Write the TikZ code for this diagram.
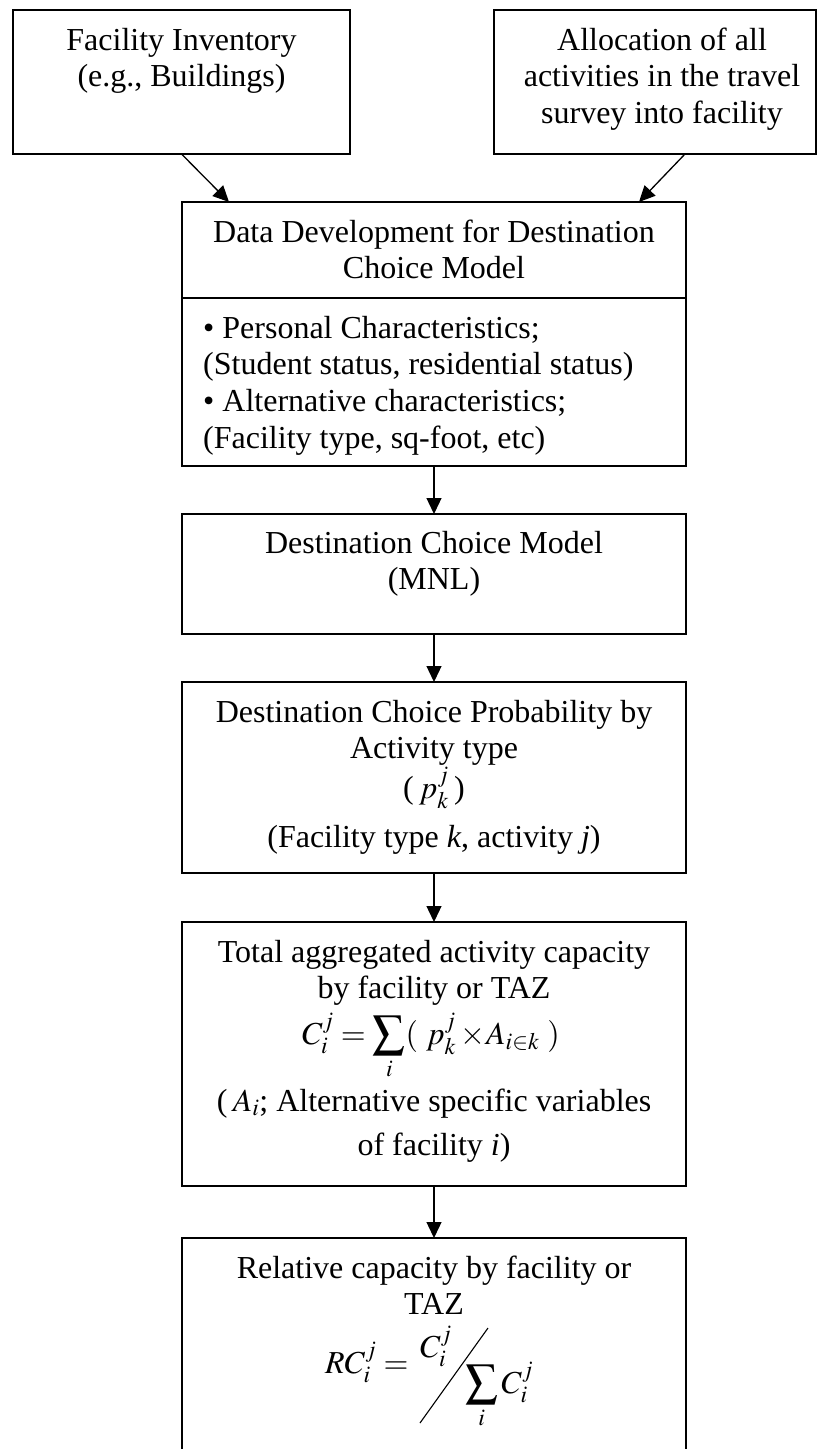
\documentclass[tikz,border=0pt]{standalone}
\usepackage{mathptmx}
\usepackage[no-math]{fontspec}
\setmainfont{Liberation Serif}
\usetikzlibrary{arrows.meta}
\newcommand\mystrut{\rule{0pt}{26pt}}
\tikzset{
  box/.style={draw, line width=1.6pt, inner sep=0pt, outer sep=0pt, anchor=north west},
  txt/.style={inner sep=0pt, align=center, anchor=north, font=\fontsize{32}{36.7}\selectfont},
  txtl/.style={txt, align=left, anchor=north west},
  arr/.style={-{Triangle[length=16pt,width=15pt]}, line width=1.3pt},
  slash/.style={line width=1.1pt},
}
\begin{document}
\begin{tikzpicture}[x=1pt,y=-1pt]
\useasboundingbox (0,0) rectangle (817,1449);
\clip (0,0) rectangle (817,1449);
% boxes
\node[box, minimum width=337pt, minimum height=144pt] (fac) at (13,10) {};
\node[box, minimum width=322pt, minimum height=144pt] (alloc) at (494,10) {};
\node[box, minimum width=504pt, minimum height=264pt] (data) at (182,202) {};
\node[box, minimum width=504pt, minimum height=120pt] (mnl) at (182,514) {};
\node[box, minimum width=504pt, minimum height=191pt] (prob) at (182,682) {};
\node[box, minimum width=504pt, minimum height=264pt] (total) at (182,922) {};
\node[box, minimum width=504pt, minimum height=260pt] (rel) at (182,1238) {};
\coordinate (div) at (0,298);
\draw[line width=1.6pt] (data.west |- div) -- (data.east |- div);
% texts
\node[txt] (facT) at (181.5,24) {\mystrut Facility Inventory\\(e.g., Buildings)};
\node[txt] (allocT) at (662,24) {\mystrut Allocation of all\\activities in the travel\\survey into facility};
\node[txt] (dataT) at (434,216) {\mystrut Data Development for Destination\\Choice Model};
\node[txtl] (dataB) at (203,312) {\mystrut\textbullet\ Personal Characteristics;\\(Student status, residential status)\\\textbullet\ Alternative characteristics;\\(Facility type, sq-foot, etc)};
\node[txt] (mnlT) at (434,527) {\mystrut Destination Choice Model\\(MNL)};
\node[txt] (probT) at (434,696) {\mystrut Destination Choice Probability by\\Activity type};
\node[txt, anchor=base] (probP) at (434,798) {(\,$p_k^j$\,)};
\node[txt, anchor=base] (probF) at (434,847) {(Facility type \textit{k}, activity \textit{j})};
\node[txt] (totT) at (434,936) {\mystrut Total aggregated activity capacity\\by facility or TAZ};
\node[txt, anchor=base] (totF) at (431,1044) {$C_i^j = \displaystyle\sum_i (\ p_k^j \times\! A_{i\in k}\ )$};
\node[txt, anchor=base] (totA) at (434,1111) {(\,$A_i$; Alternative specific variables};
\node[txt, anchor=base] (totB) at (434,1155) {of facility \textit{i})};
\node[txt] (relT) at (434,1252) {\mystrut Relative capacity by facility or\\TAZ};
\node[txt, anchor=base west] (rcL) at (325,1373) {$RC_i^j =$};
\node[txt, anchor=base west] (rcN) at (420,1357) {$C_i^j$};
\node[txt, anchor=base west] (rcD) at (465,1393) {$\displaystyle\sum_i C_i^j$};
\draw[slash] (420,1423) -- (488,1328);
% connectors
\draw[arr] (fac.south) -- ([xshift=47pt]data.north west);
\draw[arr] ([xshift=191pt]alloc.south west) -- ([xshift=-47pt]data.north east);
\draw[arr] (data.south) -- (mnl.north);
\draw[arr] (mnl.south) -- (prob.north);
\draw[arr] (prob.south) -- (total.north);
\draw[arr] (total.south) -- (rel.north);
\end{tikzpicture}
\end{document}
